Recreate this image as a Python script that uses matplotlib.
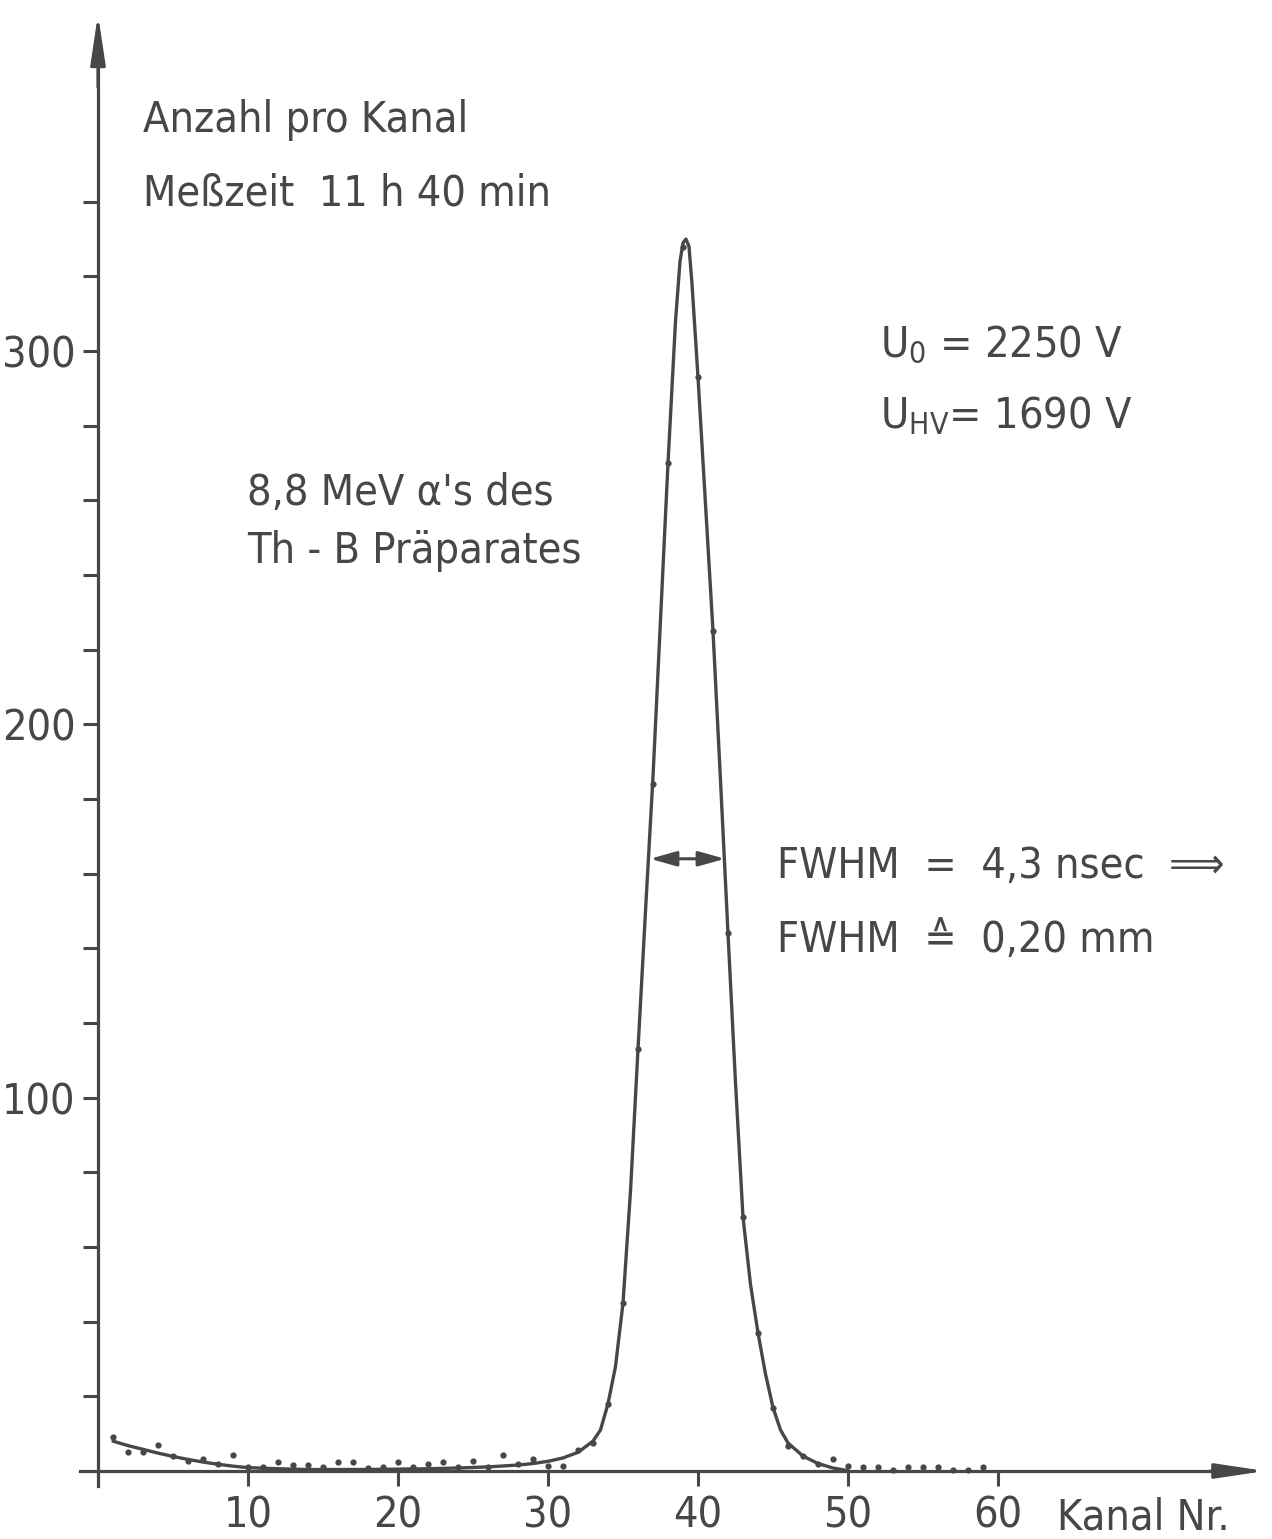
import matplotlib
matplotlib.use("Agg")
import matplotlib.pyplot as plt
import numpy as np

# measured counts per channel (dots)
channels = np.arange(1, 60)
counts = [9, 5, 5, 7, 4, 2.7, 3.2, 2, 4.3, 1.2,
          1, 2.4, 1.5, 1.7, 1, 2.5, 2.3, 0.8, 1, 2.5,
          1, 2, 2.3, 1, 2.7, 1, 4.3, 2, 3.2, 1.3,
          1.3, 5.6, 7.5, 18, 45, 113, 184, 270, 328, 293,
          225, 144, 68, 37, 17, 6.7, 4, 2, 3.2, 1.3,
          1, 1, 0.3, 1, 1, 1, 0.3, 0.3, 1]

# hand drawn curve
fit_x = [1, 2, 3, 4, 5, 6, 7, 8, 9, 10, 12, 14, 16, 18, 20, 22, 24, 26, 28, 29,
         30, 31, 32, 33, 33.5, 34, 34.5, 35, 35.5, 36, 36.5, 37, 37.5, 38, 38.5,
         38.8, 39.0, 39.2, 39.4, 39.6, 40, 40.5, 41, 41.5, 42, 42.5, 43, 43.5,
         44, 44.5, 45, 45.5, 46, 47, 48, 49, 50]
fit_y = [8.0, 6.8, 5.8, 4.8, 3.9, 3.1, 2.4, 1.8, 1.3, 0.9, 0.6, 0.4, 0.4, 0.4, 0.5,
         0.6, 0.8, 1.1, 1.6, 2.0, 2.6, 3.5, 5.0, 8.0, 11, 18, 28, 45, 75, 113,
         150, 186, 228, 270, 308, 324, 329, 330, 328, 318, 293, 259, 225, 185,
         144, 104, 68, 50, 37, 26, 17, 11, 7.5, 4, 2, 0.8, 0.1]

fwhm_edges = [36.8, 41.8]
x_ticks = [10, 20, 30, 40, 50, 60]
y_ticks = [100, 200, 300]
y_minor = [20, 40, 60, 80, 120, 140, 160, 180, 220, 240, 260, 280, 320, 340]

ink = '#474747'
plt.rcParams['font.family'] = ['DejaVu Sans']
plt.rcParams['font.stretch'] = 'condensed'
plt.rcParams['mathtext.default'] = 'regular'

W, H = 1272, 1539
fig = plt.figure(figsize=(W / 100, H / 100), dpi=100)
ax = fig.add_axes([0, 0, 1, 1])
ax.set_xlim(-98 / 15, (W - 98) / 15)
ax.set_ylim(-(H - 1471) / 3.733, 1471 / 3.733)

for s in ['top', 'right']:
    ax.spines[s].set_visible(False)
ax.spines['left'].set_position(('data', 0))
ax.spines['bottom'].set_position(('data', 0))
ax.spines['left'].set_bounds(-4, 380)
ax.spines['bottom'].set_bounds(-1.2, 75)
for s in ['left', 'bottom']:
    ax.spines[s].set_color(ink)
    ax.spines[s].set_linewidth(2.3)

# axis arrow heads
ax.annotate('', xy=(0, 391), xytext=(0, 370),
            arrowprops=dict(arrowstyle='-|>,head_length=30,head_width=4.5',
                            mutation_scale=1, color=ink, lw=2.3))
ax.annotate('', xy=(78, 0), xytext=(74, 0),
            arrowprops=dict(arrowstyle='-|>,head_length=30,head_width=4.5',
                            mutation_scale=1, color=ink, lw=2.3))

ax.set_xticks(x_ticks)
ax.set_yticks(y_ticks)
ax.set_yticks(y_minor, minor=True)
ax.tick_params(which='both', direction='out', length=11, width=2.2, color=ink,
               labelcolor=ink, labelsize=31)
ax.tick_params(axis='x', pad=6)
ax.tick_params(axis='y', pad=5)

ax.plot(fit_x, fit_y, color=ink, lw=2.4, solid_joinstyle='round',
        solid_capstyle='round')
ax.plot(channels, counts, 'o', color=ink, ms=4.5, mec='none')

half = max(counts) / 2
ax.annotate('', xy=(fwhm_edges[0], half), xytext=(fwhm_edges[1], half),
            arrowprops=dict(arrowstyle='<|-|>,head_length=16,head_width=4.5',
                            mutation_scale=1, color=ink, lw=2.2,
                            shrinkA=0, shrinkB=0))

def label(x, y, s, **kw):
    fig.text(x / W, 1 - y / H, s, color=ink, fontsize=31, va='baseline', **kw)

label(143, 132, 'Anzahl pro Kanal')
label(143, 205, 'Meßzeit  11 h 40 min')
label(880, 357, 'U$_0$ = 2250 V')
label(880, 428, 'U$_{HV}$= 1690 V')
label(247, 505, "8,8 MeV α's des")
label(247, 563, 'Th - B Präparates')
label(777, 878, 'FWHM  =  4,3 nsec  ⟹')
label(777, 952, 'FWHM  ≙  0,20 mm')
label(1057, 1530, 'Kanal Nr.')

fig.savefig('out.png', dpi=100, facecolor='white')
